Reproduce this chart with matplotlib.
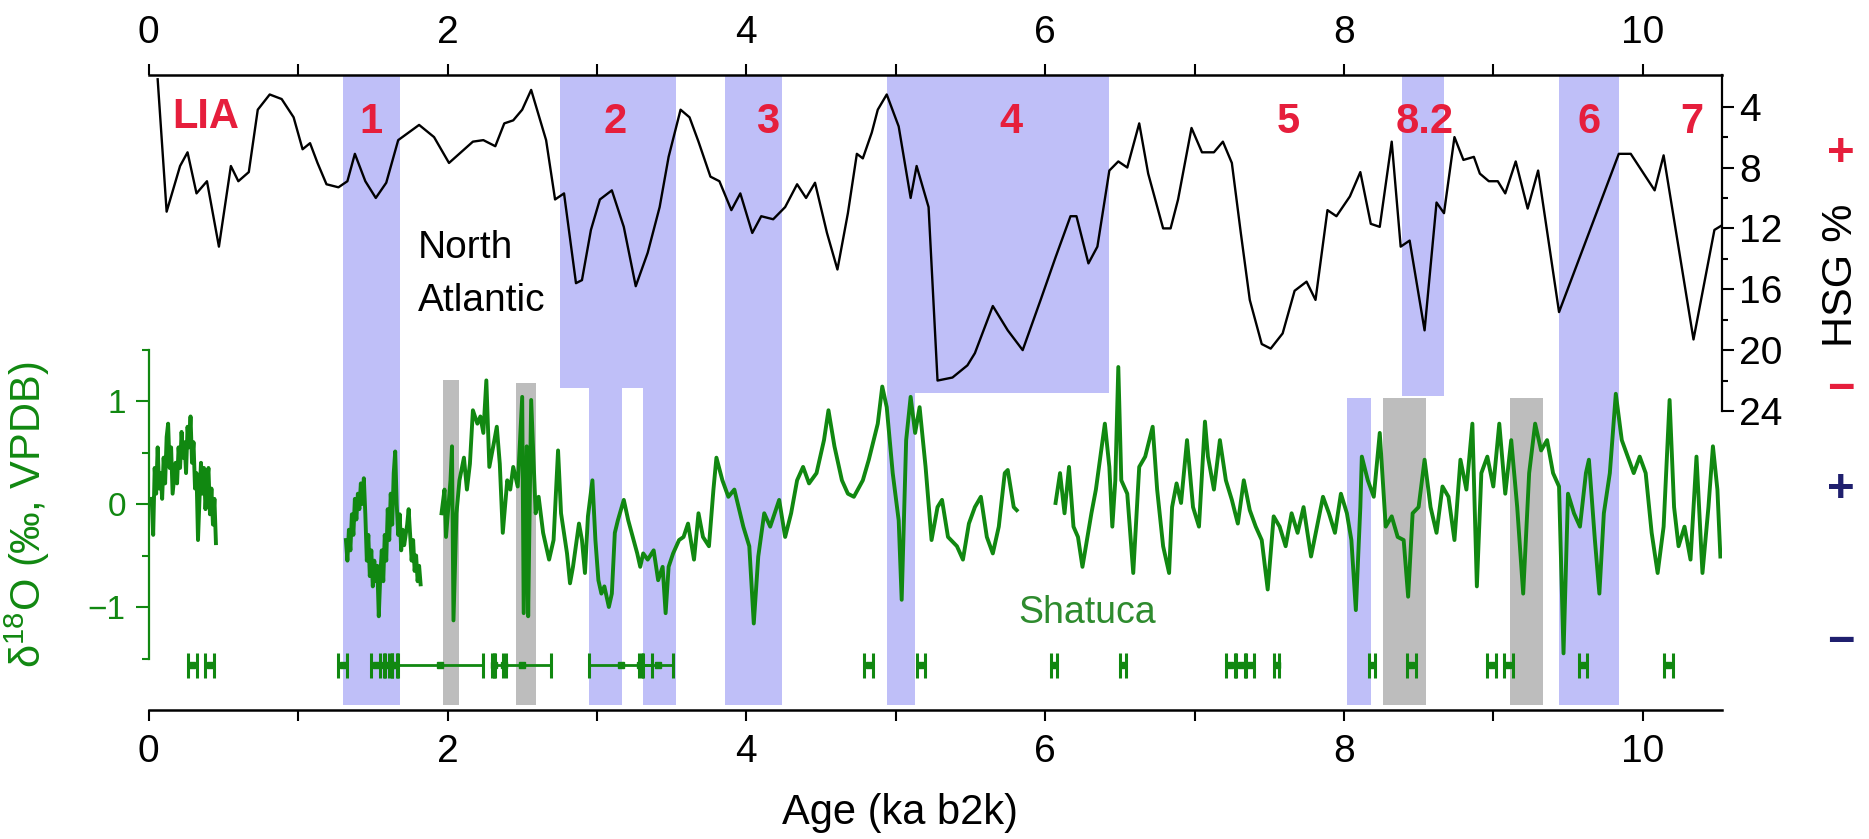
import matplotlib.pyplot as plt
import numpy as np

plt.rcParams['font.family'] = ['Liberation Sans', 'DejaVu Sans']
plt.rcParams['mathtext.fontset'] = 'custom'
plt.rcParams['mathtext.rm'] = 'Liberation Sans'
plt.rcParams['mathtext.default'] = 'regular'

# North Atlantic hematite-stained grains (HSG %), age in ka b2k
hsg_age = [0.06, 0.12, 0.21, 0.26, 0.32, 0.39, 0.47, 0.55, 0.60, 0.67, 0.73, 0.81, 0.89, 0.97,
           1.03, 1.08, 1.13, 1.19, 1.27, 1.33, 1.38, 1.45, 1.52, 1.59, 1.67, 1.81, 1.91, 2.01,
           2.17, 2.24, 2.32, 2.38, 2.44, 2.50, 2.56, 2.66, 2.72, 2.78, 2.86, 2.90, 2.96, 3.02,
           3.10, 3.18, 3.26, 3.34, 3.42, 3.48, 3.56, 3.62, 3.68, 3.76, 3.82, 3.90, 3.96, 4.04,
           4.10, 4.18, 4.26, 4.34, 4.40, 4.46, 4.54, 4.61, 4.68, 4.74, 4.78, 4.84, 4.88, 4.94,
           5.02, 5.10, 5.14, 5.22, 5.28, 5.38, 5.48, 5.53, 5.65, 5.75, 5.85, 5.97, 6.07, 6.17,
           6.21, 6.29, 6.35, 6.43, 6.49, 6.55, 6.63, 6.69, 6.79, 6.84, 6.89, 6.98, 7.05, 7.13,
           7.19, 7.25, 7.31, 7.37, 7.45, 7.51, 7.59, 7.67, 7.75, 7.81, 7.89, 7.95, 8.04, 8.11,
           8.18, 8.24, 8.32, 8.38, 8.44, 8.54, 8.62, 8.67, 8.74, 8.80, 8.87, 8.91, 8.97, 9.03,
           9.08, 9.15, 9.23, 9.30, 9.44, 9.84, 9.92, 10.08, 10.14, 10.34, 10.48, 10.53]
hsg_val = [2.2, 10.9, 7.9, 7.0, 9.7, 8.9, 13.2, 7.9, 8.9, 8.3, 4.2, 3.2, 3.5, 4.7,
           6.8, 6.4, 7.7, 9.1, 9.3, 8.9, 7.1, 8.9, 10.0, 9.0, 6.2, 5.2, 6.0, 7.7,
           6.3, 6.2, 6.6, 5.1, 4.9, 4.2, 2.9, 6.2, 10.1, 9.7, 15.6, 15.4, 12.1, 10.1,
           9.5, 11.9, 15.8, 13.6, 10.6, 7.3, 4.2, 4.7, 6.3, 8.6, 8.9, 10.8, 9.7, 12.3,
           11.2, 11.4, 10.6, 9.1, 10.0, 9.0, 12.3, 14.7, 11.0, 7.1, 7.4, 5.7, 4.2, 3.2,
           5.3, 10.0, 7.9, 10.6, 22.0, 21.8, 21.0, 20.2, 17.1, 18.7, 20.0, 16.7, 13.9, 11.2,
           11.2, 14.3, 13.2, 8.2, 7.6, 8.0, 5.1, 8.4, 12.0, 12.0, 10.1, 5.4, 7.0, 7.0,
           6.3, 7.7, 12.3, 16.7, 19.6, 19.9, 18.9, 16.1, 15.5, 16.7, 10.8, 11.2, 9.9, 8.3,
           11.7, 11.9, 6.3, 13.2, 12.8, 18.7, 10.3, 11.0, 6.0, 7.5, 7.3, 8.4, 8.9, 8.9,
           9.7, 7.6, 10.7, 8.2, 17.5, 7.1, 7.1, 9.5, 7.2, 19.3, 12.1, 11.8]

# Shatuca d18O (permil VPDB), four pieces of record (age, value)
d18o_part1 = [(0.02, 0.05), (0.03, -0.30), (0.04, 0.35), (0.05, 0.10), (0.06, 0.55), (0.07, 0.15),
              (0.08, 0.30), (0.09, 0.05), (0.10, 0.45), (0.11, 0.20), (0.12, 0.65), (0.13, 0.78),
              (0.14, 0.35), (0.15, 0.55), (0.16, 0.10), (0.18, 0.40), (0.19, 0.20), (0.20, 0.55),
              (0.21, 0.35), (0.22, 0.70), (0.23, 0.45), (0.24, 0.60), (0.25, 0.30), (0.26, 0.75),
              (0.27, 0.55), (0.28, 0.85), (0.29, 0.40), (0.30, 0.60), (0.31, 0.15), (0.32, 0.30),
              (0.33, -0.35), (0.34, 0.05), (0.35, 0.40), (0.36, 0.10), (0.37, 0.35), (0.38, -0.05),
              (0.39, 0.20), (0.40, 0.35), (0.41, -0.10), (0.42, 0.15), (0.43, -0.20), (0.44, 0.05),
              (0.45, -0.38)]
d18o_part2 = [(1.32, -0.35), (1.33, -0.55), (1.34, -0.25), (1.35, -0.45), (1.36, -0.10), (1.37, -0.30),
              (1.38, 0.05), (1.39, -0.15), (1.40, 0.10), (1.41, -0.05), (1.42, 0.20), (1.43, 0.00),
              (1.44, 0.25), (1.45, -0.10), (1.46, -0.55), (1.47, -0.30), (1.48, -0.70), (1.49, -0.45),
              (1.50, -0.80), (1.51, -0.55), (1.52, -0.75), (1.53, -0.60), (1.54, -1.09), (1.55, -0.70),
              (1.56, -0.45), (1.57, -0.75), (1.58, -0.30), (1.59, -0.55), (1.60, -0.05), (1.61, -0.35),
              (1.62, 0.10), (1.63, -0.20), (1.64, 0.30), (1.65, 0.51), (1.66, 0.00), (1.67, -0.30),
              (1.68, -0.10), (1.69, -0.45), (1.70, -0.25), (1.71, -0.40), (1.73, -0.20), (1.74, -0.05),
              (1.75, -0.30), (1.76, -0.55), (1.77, -0.35), (1.78, -0.65), (1.79, -0.50), (1.80, -0.75),
              (1.81, -0.60), (1.82, -0.78)]
d18o_part3 = [(1.96, -0.09), (1.98, 0.14), (1.99, -0.32), (2.02, 0.23), (2.03, 0.56), (2.04, -1.13),
              (2.06, -0.09), (2.08, 0.23), (2.11, 0.45), (2.13, 0.14), (2.15, 0.39), (2.17, 0.91),
              (2.20, 0.78), (2.22, 0.85), (2.24, 0.69), (2.26, 1.20), (2.28, 0.36), (2.31, 0.59),
              (2.33, 0.75), (2.35, 0.39), (2.37, -0.28), (2.40, 0.23), (2.42, 0.14), (2.44, 0.36),
              (2.47, 0.17), (2.50, 1.04), (2.51, -1.06), (2.53, 0.56), (2.54, -1.09), (2.56, 1.01),
              (2.59, -0.09), (2.61, 0.07), (2.64, -0.28), (2.68, -0.54), (2.71, -0.35), (2.74, 0.52),
              (2.76, -0.09), (2.80, -0.48), (2.82, -0.77), (2.84, -0.61), (2.88, -0.19), (2.90, -0.35),
              (2.92, -0.67), (2.94, -0.12), (2.97, 0.23), (2.99, -0.35), (3.01, -0.74), (3.03, -0.87),
              (3.05, -0.80), (3.08, -1.00), (3.10, -0.87), (3.12, -0.28), (3.14, -0.16), (3.18, 0.04),
              (3.21, -0.16), (3.24, -0.32), (3.27, -0.48), (3.29, -0.61), (3.31, -0.48), (3.34, -0.54),
              (3.38, -0.45), (3.41, -0.74), (3.44, -0.61), (3.46, -1.06), (3.48, -0.61), (3.51, -0.48),
              (3.55, -0.35), (3.58, -0.32), (3.61, -0.19), (3.65, -0.54), (3.68, -0.09), (3.71, -0.32),
              (3.75, -0.41), (3.78, 0.14), (3.80, 0.45), (3.84, 0.23), (3.88, 0.07), (3.92, 0.14),
              (3.98, -0.22), (4.02, -0.41), (4.05, -1.16), (4.08, -0.51), (4.12, -0.09), (4.16, -0.22),
              (4.22, 0.04), (4.26, -0.32), (4.30, -0.09), (4.34, 0.23), (4.38, 0.36), (4.42, 0.20),
              (4.47, 0.30), (4.52, 0.62), (4.55, 0.91), (4.59, 0.56), (4.64, 0.23), (4.68, 0.10),
              (4.72, 0.07), (4.78, 0.23), (4.82, 0.43), (4.88, 0.78), (4.91, 1.14), (4.94, 0.94),
              (4.98, 0.30), (5.02, -0.16), (5.04, -0.93), (5.07, 0.62), (5.10, 1.04), (5.13, 0.69),
              (5.16, 0.94), (5.20, 0.36), (5.24, -0.35), (5.28, -0.03), (5.31, 0.04), (5.35, -0.32),
              (5.41, -0.41), (5.45, -0.54), (5.49, -0.19), (5.53, -0.03), (5.57, 0.07), (5.61, -0.32),
              (5.65, -0.48), (5.69, -0.22), (5.73, 0.30), (5.75, 0.33), (5.79, -0.03), (5.81, -0.06)]
d18o_part4 = [(6.07, 0.01), (6.10, 0.30), (6.13, -0.09), (6.16, 0.36), (6.19, -0.22), (6.22, -0.32),
              (6.25, -0.61), (6.28, -0.35), (6.31, -0.09), (6.34, 0.14), (6.37, 0.46), (6.40, 0.78),
              (6.43, 0.36), (6.45, -0.22), (6.47, 0.23), (6.49, 1.33), (6.51, 0.23), (6.55, 0.10),
              (6.59, -0.67), (6.63, 0.36), (6.67, 0.46), (6.72, 0.75), (6.75, 0.14), (6.79, -0.41),
              (6.83, -0.67), (6.85, -0.03), (6.88, 0.20), (6.91, 0.01), (6.95, 0.62), (6.99, -0.03),
              (7.03, -0.22), (7.07, 0.80), (7.09, 0.46), (7.13, 0.14), (7.17, 0.62), (7.21, 0.23),
              (7.25, 0.04), (7.29, -0.19), (7.33, 0.23), (7.37, -0.06), (7.41, -0.22), (7.45, -0.35),
              (7.49, -0.83), (7.53, -0.12), (7.57, -0.22), (7.61, -0.41), (7.65, -0.09), (7.69, -0.28),
              (7.73, -0.03), (7.78, -0.51), (7.82, -0.22), (7.86, 0.07), (7.90, -0.09), (7.94, -0.28),
              (7.98, 0.10), (8.02, -0.09), (8.05, -0.35), (8.08, -1.03), (8.11, -0.03), (8.12, 0.46),
              (8.16, 0.23), (8.20, 0.07), (8.24, 0.69), (8.28, -0.22), (8.32, -0.12), (8.36, -0.32),
              (8.40, -0.35), (8.43, -0.90), (8.46, -0.09), (8.50, -0.03), (8.54, 0.43), (8.58, -0.03),
              (8.62, -0.28), (8.66, 0.17), (8.70, 0.07), (8.74, -0.35), (8.78, 0.43), (8.82, 0.14),
              (8.86, 0.78), (8.89, -0.80), (8.92, 0.30), (8.96, 0.46), (9.00, 0.17), (9.04, 0.78),
              (9.08, 0.10), (9.12, 0.62), (9.16, -0.03), (9.20, -0.87), (9.24, 0.30), (9.28, 0.78),
              (9.32, 0.52), (9.36, 0.62), (9.40, 0.30), (9.44, 0.17), (9.47, -1.45), (9.50, 0.10),
              (9.54, -0.09), (9.58, -0.22), (9.62, 0.30), (9.64, 0.43), (9.68, -0.35), (9.71, -0.87),
              (9.74, -0.09), (9.78, 0.30), (9.82, 1.07), (9.86, 0.62), (9.90, 0.46), (9.94, 0.30),
              (9.98, 0.46), (10.02, 0.30), (10.06, -0.28), (10.10, -0.67), (10.14, -0.22), (10.18, 1.01),
              (10.21, -0.03), (10.24, -0.41), (10.28, -0.22), (10.32, -0.54), (10.36, 0.46), (10.40, -0.67),
              (10.44, -0.03), (10.47, 0.56), (10.50, 0.14), (10.52, -0.51)]

# U-Th ages and 2-sigma errors (ka)
uth_age = [0.29, 0.41, 1.30, 1.52, 1.58, 1.62, 1.65, 1.95, 2.31, 2.38, 2.50, 3.16, 3.29, 3.41,
           4.82, 5.17, 6.06, 6.52, 7.24, 7.31, 7.37, 7.55, 8.19, 8.45, 8.99, 9.10, 9.60, 10.17]
uth_err = [0.03, 0.03, 0.03, 0.03, 0.005, 0.01, 0.02, 0.29, 0.01, 0.01, 0.19, 0.21, 0.01, 0.10,
           0.03, 0.025, 0.02, 0.02, 0.03, 0.03, 0.025, 0.015, 0.02, 0.03, 0.03, 0.03, 0.025, 0.03]

# event intervals (ka)
blue_full = [(1.30, 1.68), (3.86, 4.24), (9.44, 9.84)]
blue_upper = [(2.75, 3.53), (4.94, 6.43), (8.39, 8.67)]
blue_lower = [(2.95, 3.17), (3.31, 3.53), (4.94, 5.13), (8.02, 8.18)]
grey_bars = [(1.97, 2.08), (2.46, 2.59), (8.26, 8.55), (9.11, 9.33)]

event_names = ['LIA', '1', '2', '3', '4', '5', '8.2', '6', '7']
event_pos = [0.38, 1.49, 3.12, 4.14, 5.77, 7.63, 8.54, 9.64, 10.33]

green = '#118811'
red = '#e61e3c'
navy = '#1f1f6e'
blue = '#bfbff8'
grey = '#bdbdbd'

W, H = 1869, 839
fig = plt.figure(figsize=(W / 100, H / 100), dpi=100)
x_left, x_right = 148.7, 1721.7
y_top, y_bot, y_hsg = 75, 710, 411
ax = fig.add_axes([x_left / W, 1 - y_bot / H, (x_right - x_left) / W, (y_bot - y_top) / H])
ax_h = fig.add_axes([x_left / W, 1 - y_hsg / H, (x_right - x_left) / W, (y_hsg - y_top) / H])
ax_h.patch.set_visible(False)

xmax = (x_right - x_left) / 149.4
ytop_d = (504 - y_top) / 103.0
ybot_d = -(y_bot - 504) / 103.0
ax.set_xlim(0, xmax)
ax.set_ylim(ybot_d, ytop_d)
ax_h.set_xlim(0, xmax)
ax_h.set_ylim(24, 1.92)

# shaded intervals
low = -1.95
for a, b in blue_full:
    ax.fill_between([a, b], low, ytop_d, color=blue, lw=0, zorder=0)
for (a, b), bot in zip(blue_upper, [1.126, 1.078, 1.049]):
    ax.fill_between([a, b], bot, ytop_d, color=blue, lw=0, zorder=0)
for (a, b), top in zip(blue_lower, [1.126, 1.126, 1.078, 1.029]):
    ax.fill_between([a, b], low, top, color=blue, lw=0, zorder=0)
for (a, b), top in zip(grey_bars, [1.204, 1.175, 1.03, 1.03]):
    ax.fill_between([a, b], low, top, color=grey, lw=0, zorder=0)

for part in [d18o_part1, d18o_part2, d18o_part3, d18o_part4]:
    age, val = zip(*part)
    ax.plot(age, val, color=green, lw=2.8, zorder=2)

ax.errorbar(uth_age, [-1.56] * len(uth_age), xerr=uth_err, fmt='s', ms=4.5, color=green,
            elinewidth=2.0, capsize=9, capthick=2.2, zorder=3, clip_on=False)

ax_h.plot(hsg_age, hsg_val, color='black', lw=1.7)

# axes styling
for s in ['left', 'right', 'top', 'bottom']:
    ax_h.spines[s].set_visible(False)
ax_h.spines['right'].set_visible(True)
ax_h.spines['right'].set_linewidth(1.6)
ax_h.yaxis.tick_right()
ax_h.set_yticks([4, 8, 12, 16, 20, 24])
ax_h.set_yticks([6, 10, 14, 18, 22], minor=True)
ax_h.tick_params(axis='y', which='major', length=8.5, width=1.5, labelsize=28, pad=4)
ax_h.tick_params(axis='y', which='minor', length=4, width=1.5)
ax_h.set_xticks([])

ax.spines['right'].set_visible(False)
ax.spines['left'].set_bounds(-1.5, 1.5)
ax.spines['left'].set_color(green)
ax.spines['left'].set_linewidth(1.6)
ax.spines['top'].set_linewidth(1.8)
ax.spines['bottom'].set_linewidth(1.8)
ax.set_yticks([-1, 0, 1])
ax.set_yticks([-1.5, -0.5, 0.5, 1.5], minor=True)
ax.tick_params(axis='y', which='major', colors=green, length=9.5, width=1.5, labelsize=24, pad=7)
ax.tick_params(axis='y', which='minor', colors=green, length=5, width=1.5)
ax.set_xticks([0, 2, 4, 6, 8, 10])
ax.set_xticks([1, 3, 5, 7, 9], minor=True)
ax.tick_params(axis='x', which='both', top=True, labeltop=True, bottom=True, labelbottom=True,
               length=8, width=1.5, labelsize=28, pad=9)

# labels
for name, pos in zip(event_names, event_pos):
    ax_h.text(pos, 4.7 if name == 'LIA' else 5.0, name, color=red, fontsize=30,
              fontweight='bold', ha='center', va='center')
ax_h.text(1.80, 13.3, 'North', fontsize=28, ha='left', va='center')
ax_h.text(1.80, 16.8, 'Atlantic', fontsize=28, ha='left', va='center')
ax.text(5.82, -1.06, 'Shatuca', color='#2e8b2e', fontsize=27, ha='left', va='center')

fig.text(900 / W, 1 - 813 / H, 'Age (ka b2k)', fontsize=30, ha='center', va='center')
fig.text(1841 / W, 1 - 275 / H, 'HSG %', fontsize=31, rotation=90, ha='center', va='center')
fig.text(27 / W, 1 - 515 / H, r'$\delta^{18}$O (‰, VPDB)', color=green, fontsize=30,
         rotation=90, ha='center', va='center')

# sign keys on the right edge
for sym, yy, col in [('+', 154, red), ('\u2212', 390, red), ('+', 490, navy), ('\u2212', 643, navy)]:
    fig.text(1841 / W, 1 - yy / H, sym, color=col, fontsize=34, fontweight='bold',
             ha='center', va='center')

plt.savefig('out.png', dpi=100)
